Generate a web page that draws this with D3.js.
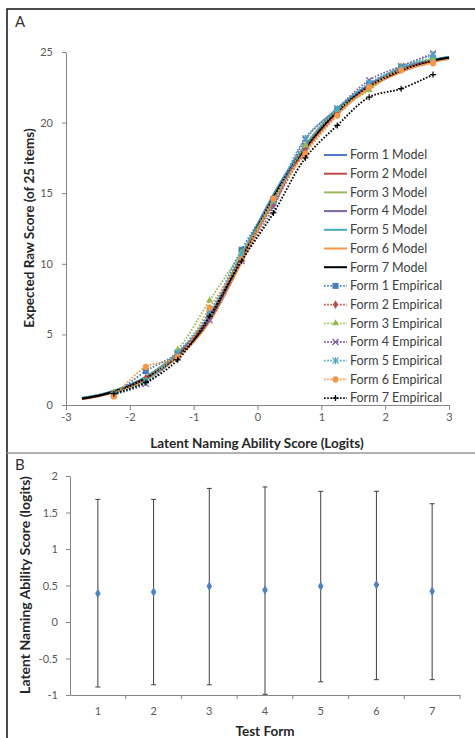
<!DOCTYPE html>
<html>
<head>
<meta charset="utf-8">
<script src="https://cdn.jsdelivr.net/npm/d3@7"></script>
<style>
  body { margin: 0; background: #fff; }
  svg { display: block; font-family: Lato, "Open Sans", sans-serif; }
  .axis path, .axis line { stroke: #868686; }
  .axis text { fill: #595959; font-size: 11px; font-family: Lato, sans-serif; }
</style>
</head>
<body>
<div id="chart"></div>
<script>
// Panel A: test characteristic curves
const modelTheta = [-2.75, -2.5, -2.25, -2, -1.75, -1.5, -1.25, -1, -0.75, -0.5, -0.25, 0,
                    0.25, 0.5, 0.75, 1, 1.25, 1.5, 1.75, 2, 2.25, 2.5, 2.75, 3];
const form1Model = [0.5, 0.7, 1.0, 1.45, 2.0, 2.75, 3.7, 4.8, 6.3, 8.4, 10.6, 12.8, 14.9, 16.8, 18.4, 19.8, 21.0, 21.9, 22.7, 23.3, 23.8, 24.2, 24.45, 24.65];
const form2Model = [0.45, 0.65, 0.95, 1.35, 1.85, 2.55, 3.45, 4.5, 6.0, 8.0, 10.2, 12.4, 14.5, 16.5, 18.1, 19.5, 20.7, 21.7, 22.5, 23.1, 23.6, 24.0, 24.35, 24.55];
const form3Model = [0.5, 0.7, 1.0, 1.4, 1.95, 2.7, 3.6, 4.75, 6.25, 8.3, 10.5, 12.7, 14.8, 16.7, 18.3, 19.7, 20.9, 21.85, 22.65, 23.25, 23.75, 24.15, 24.4, 24.6];
const form4Model = [0.45, 0.65, 0.95, 1.35, 1.9, 2.6, 3.5, 4.6, 6.1, 8.2, 10.4, 12.6, 14.7, 16.6, 18.2, 19.6, 20.8, 21.8, 22.6, 23.2, 23.7, 24.1, 24.4, 24.6];
const form5Model = [0.5, 0.7, 1.0, 1.4, 1.95, 2.65, 3.55, 4.7, 6.2, 8.3, 10.5, 12.7, 14.8, 16.7, 18.3, 19.7, 20.9, 21.9, 22.7, 23.3, 23.8, 24.15, 24.45, 24.65];
const form6Model = [0.4, 0.6, 0.9, 1.3, 1.8, 2.5, 3.4, 4.45, 5.9, 7.9, 10.1, 12.3, 14.4, 16.4, 18.0, 19.4, 20.6, 21.6, 22.4, 23.1, 23.6, 24.0, 24.3, 24.5];
const form7Model = [0.45, 0.65, 0.95, 1.35, 1.9, 2.6, 3.5, 4.6, 6.1, 8.2, 10.4, 12.6, 14.7, 16.6, 18.2, 19.6, 20.8, 21.8, 22.6, 23.2, 23.7, 24.1, 24.4, 24.6];

const empTheta = [-2.25, -1.75, -1.25, -0.75, -0.25, 0.25, 0.75, 1.25, 1.75, 2.25, 2.75];
const form1Emp = [0.7, 2.4, 3.7, 6.5, 11.0, 14.6, 18.3, 20.9, 22.7, 23.9, 24.5];
const form2Emp = [0.8, 1.9, 3.6, 6.2, 10.6, 14.2, 18.0, 20.6, 22.6, 23.8, 24.4];
const form3Emp = [0.9, 1.7, 3.9, 7.4, 10.8, 14.4, 18.4, 20.9, 22.3, 24.0, 24.5];
const form4Emp = [0.8, 1.5, 3.6, 6.0, 10.2, 14.0, 18.8, 21.0, 23.0, 24.0, 24.9];
const form5Emp = [0.7, 1.7, 3.7, 6.6, 10.7, 14.5, 18.9, 21.0, 22.8, 23.9, 24.8];
const form6Emp = [0.6, 2.7, 3.4, 6.9, 10.3, 14.6, 17.8, 20.5, 22.5, 23.7, 24.2];
const form7Emp = [0.8, 1.6, 3.2, 6.3, 10.2, 13.6, 17.5, 19.8, 21.8, 22.4, 23.4];

const formNames = ['Form 1', 'Form 2', 'Form 3', 'Form 4', 'Form 5', 'Form 6', 'Form 7'];
const formColors = ['#4a7ebb', '#be4b48', '#98b954', '#7d60a0', '#46aac5', '#f79646', '#000000'];
const markerShapes = ['square', 'diamond', 'triangle', 'cross', 'star', 'circle', 'plus'];
const xTicksA = [-3, -2, -1, 0, 1, 2, 3];
const yTicksA = [0, 5, 10, 15, 20, 25];

// Panel B: mean ability with range per test form
const testForms = ['1', '2', '3', '4', '5', '6', '7'];
const meanAbility = [0.39, 0.41, 0.49, 0.44, 0.49, 0.51, 0.42];
const upperAbility = [1.68, 1.68, 1.83, 1.85, 1.79, 1.79, 1.62];
const lowerAbility = [-0.89, -0.86, -0.86, -0.99, -0.82, -0.79, -0.79];
const yTicksB = [-1, -0.5, 0, 0.5, 1, 1.5, 2];

const models = [form1Model, form2Model, form3Model, form4Model, form5Model, form6Model, form7Model];
const empiricals = [form1Emp, form2Emp, form3Emp, form4Emp, form5Emp, form6Emp, form7Emp];

const W = 475, H = 738;
const svg = d3.select('#chart').append('svg')
    .attr('width', W).attr('height', H);

// frame
svg.append('path')
    .attr('d', `M7,${H} V9 H${W}`)
    .attr('fill', 'none').attr('stroke', '#111').attr('stroke-width', 1.5);
svg.append('line')
    .attr('x1', 7).attr('x2', W).attr('y1', 453).attr('y2', 453)
    .attr('stroke', '#9a9a9a').attr('stroke-width', 1.5);

svg.append('text').attr('x', 15).attr('y', 27).text('A')
    .attr('font-size', 15).attr('fill', '#333');
svg.append('text').attr('x', 15).attr('y', 470).text('B')
    .attr('font-size', 15).attr('fill', '#333');

// ---- Panel A ----
const xA = d3.scaleLinear().domain([-3, 3]).range([66, 449]);
const yA = d3.scaleLinear().domain([0, 25]).range([405, 52]);

svg.append('g').attr('class', 'axis')
    .attr('transform', 'translate(0,405)')
    .call(d3.axisBottom(xA).tickValues(xTicksA).tickSize(5).tickPadding(3).tickSizeOuter(0)
        .tickFormat(d => String(d)));
svg.append('g').attr('class', 'axis')
    .attr('transform', 'translate(66,0)')
    .call(d3.axisLeft(yA).tickValues(yTicksA).tickSize(4).tickPadding(9).tickSizeOuter(0)
        .tickFormat(d => String(d)));

svg.append('text')
    .attr('x', 257).attr('y', 448).attr('text-anchor', 'middle')
    .attr('font-size', 13.5).attr('font-weight', 'bold').attr('fill', '#262626')
    .text('Latent Naming Ability Score (Logits)');
svg.append('text')
    .attr('transform', 'translate(34,228) rotate(-90)').attr('text-anchor', 'middle')
    .attr('font-size', 13.5).attr('font-weight', 'bold').attr('fill', '#262626')
    .text('Expected Raw Score (of 25 items)');

const modelLine = d3.line()
    .x((d, i) => xA(modelTheta[i])).y(d => yA(d))
    .curve(d3.curveMonotoneX);
const empLine = d3.line()
    .x((d, i) => xA(empTheta[i])).y(d => yA(d))
    .curve(d3.curveCatmullRom.alpha(0.5));

const gA = svg.append('g');
models.forEach((m, k) => {
    gA.append('path')
        .attr('d', modelLine(m))
        .attr('fill', 'none')
        .attr('stroke', formColors[k])
        .attr('stroke-width', k === 6 ? 2.2 : 2);
});

function marker(g, shape, color, x, y) {
    const sym = {
        square: d3.symbolSquare, diamond: d3.symbolDiamond, triangle: d3.symbolTriangle,
        circle: d3.symbolCircle
    }[shape];
    if (sym) {
        const size = shape === 'square' ? 36 : shape === 'circle' ? 30 : 22;
        g.append('path')
            .attr('d', d3.symbol(sym, size)())
            .attr('transform', `translate(${x},${y})`)
            .attr('fill', color);
    } else {
        const r = 3;
        let d;
        if (shape === 'cross') d = `M${-r},${-r}L${r},${r}M${-r},${r}L${r},${-r}`;
        else if (shape === 'plus') d = `M${-r},0H${r}M0,${-r}V${r}`;
        else d = `M${-r},${-r}L${r},${r}M${-r},${r}L${r},${-r}M0,${-r - 0.5}V${r + 0.5}`;
        g.append('path')
            .attr('d', d)
            .attr('transform', `translate(${x},${y})`)
            .attr('stroke', color).attr('stroke-width', 1.2).attr('fill', 'none');
    }
}

empiricals.forEach((e, k) => {
    const g = gA.append('g');
    g.append('path')
        .attr('d', empLine(e))
        .attr('fill', 'none')
        .attr('stroke', formColors[k])
        .attr('stroke-width', 1.8)
        .attr('stroke-dasharray', '1.6,1.6');
    e.forEach((v, i) => marker(g, markerShapes[k], formColors[k], xA(empTheta[i]), yA(v)));
});

// legend
const legend = svg.append('g');
const legendItems = formNames.map((n, k) => ({ label: n + ' Model', k, emp: false }))
    .concat(formNames.map((n, k) => ({ label: n + ' Empirical', k, emp: true })));
legendItems.forEach((it, i) => {
    const y = 155 + i * 18.7;
    const g = legend.append('g');
    g.append('line')
        .attr('x1', 324).attr('x2', 347).attr('y1', y).attr('y2', y)
        .attr('stroke', formColors[it.k])
        .attr('stroke-width', it.emp ? 1.8 : 2)
        .attr('stroke-dasharray', it.emp ? '1.6,1.6' : null);
    if (it.emp) marker(g, markerShapes[it.k], formColors[it.k], 335.5, y);
    g.append('text')
        .attr('x', 350).attr('y', y).attr('dy', '0.35em')
        .attr('font-size', 12.5).attr('fill', '#404040')
        .text(it.label);
});

// ---- Panel B ----
const xB = d3.scaleBand().domain(testForms).range([70, 460]);
const yB = d3.scaleLinear().domain([-1, 2]).range([695, 476]);

svg.append('g').attr('class', 'axis')
    .attr('transform', 'translate(0,695)')
    .call(d3.axisBottom(xB).tickSize(0).tickPadding(12).tickSizeOuter(0));
const boundaries = testForms.slice(1).map(f => xB(f)).concat([xB.range()[1]]);
svg.append('g').selectAll('line').data(boundaries).join('line')
    .attr('x1', d => d).attr('x2', d => d).attr('y1', 695).attr('y2', 699)
    .attr('stroke', '#868686');
svg.append('g').attr('class', 'axis')
    .attr('transform', 'translate(70,0)')
    .call(d3.axisLeft(yB).tickValues(yTicksB).tickSize(4).tickPadding(8).tickSizeOuter(0)
        .tickFormat(d => String(d)));

svg.append('text')
    .attr('x', 265).attr('y', 736).attr('text-anchor', 'middle')
    .attr('font-size', 13.5).attr('font-weight', 'bold').attr('fill', '#262626')
    .text('Test Form');
svg.append('text')
    .attr('transform', 'translate(30,585) rotate(-90)').attr('text-anchor', 'middle')
    .attr('font-size', 14).attr('font-weight', 'bold').attr('fill', '#262626')
    .text('Latent Naming Ability Score (logits)');

const gB = svg.append('g');
testForms.forEach((f, i) => {
    const cx = xB(f) + xB.bandwidth() / 2;
    gB.append('line')
        .attr('x1', cx).attr('x2', cx)
        .attr('y1', yB(upperAbility[i])).attr('y2', yB(lowerAbility[i]))
        .attr('stroke', '#404040').attr('stroke-width', 1);
    [upperAbility[i], lowerAbility[i]].forEach(v => {
        gB.append('line')
            .attr('x1', cx - 2.5).attr('x2', cx + 2.5)
            .attr('y1', yB(v)).attr('y2', yB(v))
            .attr('stroke', '#404040').attr('stroke-width', 1);
    });
    gB.append('path')
        .attr('d', d3.symbol(d3.symbolDiamond, 26)())
        .attr('transform', `translate(${cx},${yB(meanAbility[i])})`)
        .attr('fill', '#4f81bd');
});
</script>
</body>
</html>
